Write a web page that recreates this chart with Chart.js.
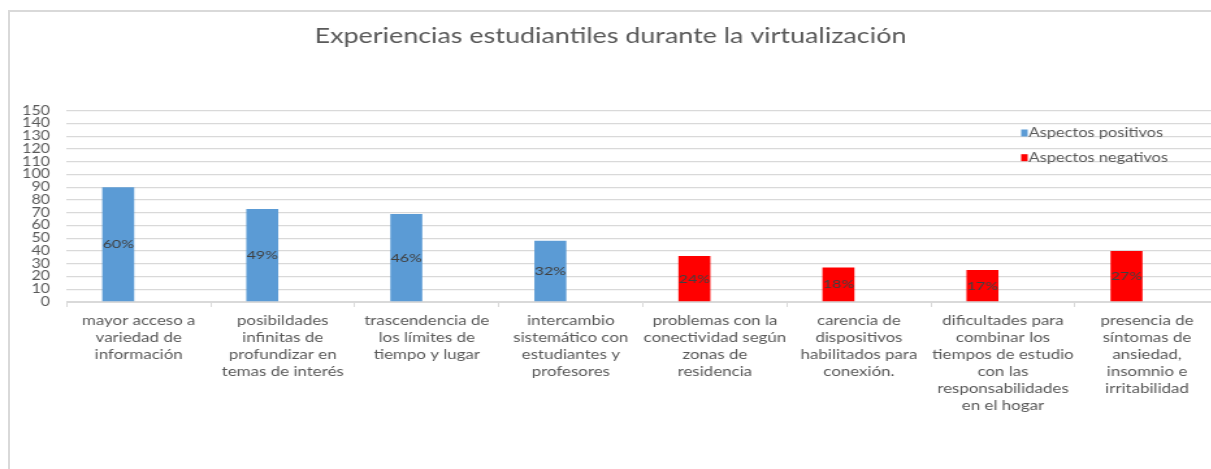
<!DOCTYPE html>
<html><head><meta charset="utf-8">
<script src="https://cdn.jsdelivr.net/npm/chart.js@4.4.1/dist/chart.umd.min.js"></script>
<style>
html,body{margin:0;padding:0;background:#fff;overflow:hidden;}
#wrap{position:relative;width:1211px;height:469px;overflow:hidden;background:#fff;}
#c{position:absolute;left:0;top:0;transform-origin:0 0;transform:scaleX(1.3);}
#frame{position:absolute;left:8px;top:10px;right:-5px;bottom:-5px;border-left:2px solid #d9d9d9;border-top:2px solid #d9d9d9;pointer-events:none;}
</style></head><body>
<div id="wrap"><canvas id="c" width="950" height="469"></canvas><div id="frame"></div></div>
<script>
const titleText = 'Experiencias estudiantiles durante la virtualización';
const categories = [
  ['mayor acceso a','variedad de','información'],
  ['posibildades','infinitas de','profundizar en','temas de interés'],
  ['trascendencia de','los límites de','tiempo y lugar'],
  ['intercambio','sistemático con','estudiantes y','profesores'],
  ['problemas con la','conectividad según','zonas de','residencia'],
  ['carencia de','dispositivos','habilitados para','conexión.'],
  ['dificultades para','combinar los','tiempos de estudio','con las','responsabilidades','en el hogar'],
  ['presencia de','síntomas de','ansiedad,','insomnio e','irritabilidad']
];
const seriesNames = ['Aspectos positivos','Aspectos negativos'];
const positives = [90,73,69,48,null,null,null,null];
const negatives = [null,null,null,null,36,27,25,40];
const percentLabels = ['60%','49%','46%','32%','24%','18%','17%','27%'];
const yMin = 0, yMax = 150, yStep = 10;

const FONT = 'Lato';
const TXT = '#595959';

const percentPlugin = {
  id: 'percentPlugin',
  afterDatasetsDraw(chart) {
    const ctx = chart.ctx;
    ctx.save();
    ctx.font = '12.3px ' + FONT;
    ctx.fillStyle = '#404040';
    ctx.textAlign = 'center';
    ctx.textBaseline = 'middle';
    [0,1].forEach(di => {
      const meta = chart.getDatasetMeta(di);
      meta.data.forEach((el, i) => {
        const v = chart.data.datasets[di].data[i];
        if (v === null || v === undefined) return;
        ctx.fillText(percentLabels[i], el.x, (el.y + el.base) / 2);
      });
    });
    ctx.restore();
  }
};

const legendPlugin = {
  id: 'customLegend',
  afterDraw(chart, args, opts) {
    const ctx = chart.ctx;
    ctx.save();
    ctx.font = '12.6px ' + FONT;
    ctx.textBaseline = 'middle';
    ctx.textAlign = 'left';
    [0,1].forEach((di, k) => {
      const ds = chart.data.datasets[di];
      const y = opts.y + k * opts.gap;
      ctx.fillStyle = ds.backgroundColor;
      ctx.fillRect(opts.x, y - 3.5, 5, 7);
      ctx.fillStyle = TXT;
      ctx.fillText(ds.label, opts.x + 5.8, y);
    });
    ctx.restore();
  }
};

new Chart(document.getElementById('c'), {
  type: 'bar',
  data: {
    labels: categories,
    datasets: [
      {label: seriesNames[0], data: positives, backgroundColor: '#5b9bd5', stack: 'a'},
      {label: seriesNames[1], data: negatives, backgroundColor: '#ff0000', stack: 'a'},
      {label: '', data: categories.map(() => null), backgroundColor: 'rgba(0,0,0,0)', stack: 'b'}
    ]
  },
  options: {
    responsive: false,
    devicePixelRatio: 1,
    animation: false,
    categoryPercentage: 0.569,
    barPercentage: 0.78,
    layout: {padding: {left: 1.5, right: 12.3, top: 0, bottom: 0}},
    plugins: {
      legend: {display: false},
      tooltip: {enabled: false},
      title: {display: true, text: titleText, color: TXT,
        font: {family: FONT, size: 20.7, weight: 'normal'},
        padding: {top: 23.6, bottom: 62.3}},
      customLegend: {x: 785.5, y: 133, gap: 24.7}
    },
    scales: {
      x: {
        afterFit(s) { s.height = 167; },
        grid: {drawOnChartArea: false, drawTicks: true, tickLength: 5, color: '#d9d9d9', offset: true},
        border: {display: true, color: '#d9d9d9'},
        ticks: {color: TXT, font: {family: FONT, size: 13, lineHeight: 17/13}, padding: 4.9, maxRotation: 0, autoSkip: false}
      },
      y: {
        min: yMin, max: yMax,
        afterFit(s) { s.width = 49.8; },
        grid: {color: '#d9d9d9', lineWidth: 1.3, drawTicks: false},
        border: {display: false},
        ticks: {stepSize: yStep, autoSkip: false, color: TXT, font: {family: FONT, size: 12.4}, padding: 12.8}
      }
    }
  },
  plugins: [percentPlugin, legendPlugin]
});
</script>
</body></html>
